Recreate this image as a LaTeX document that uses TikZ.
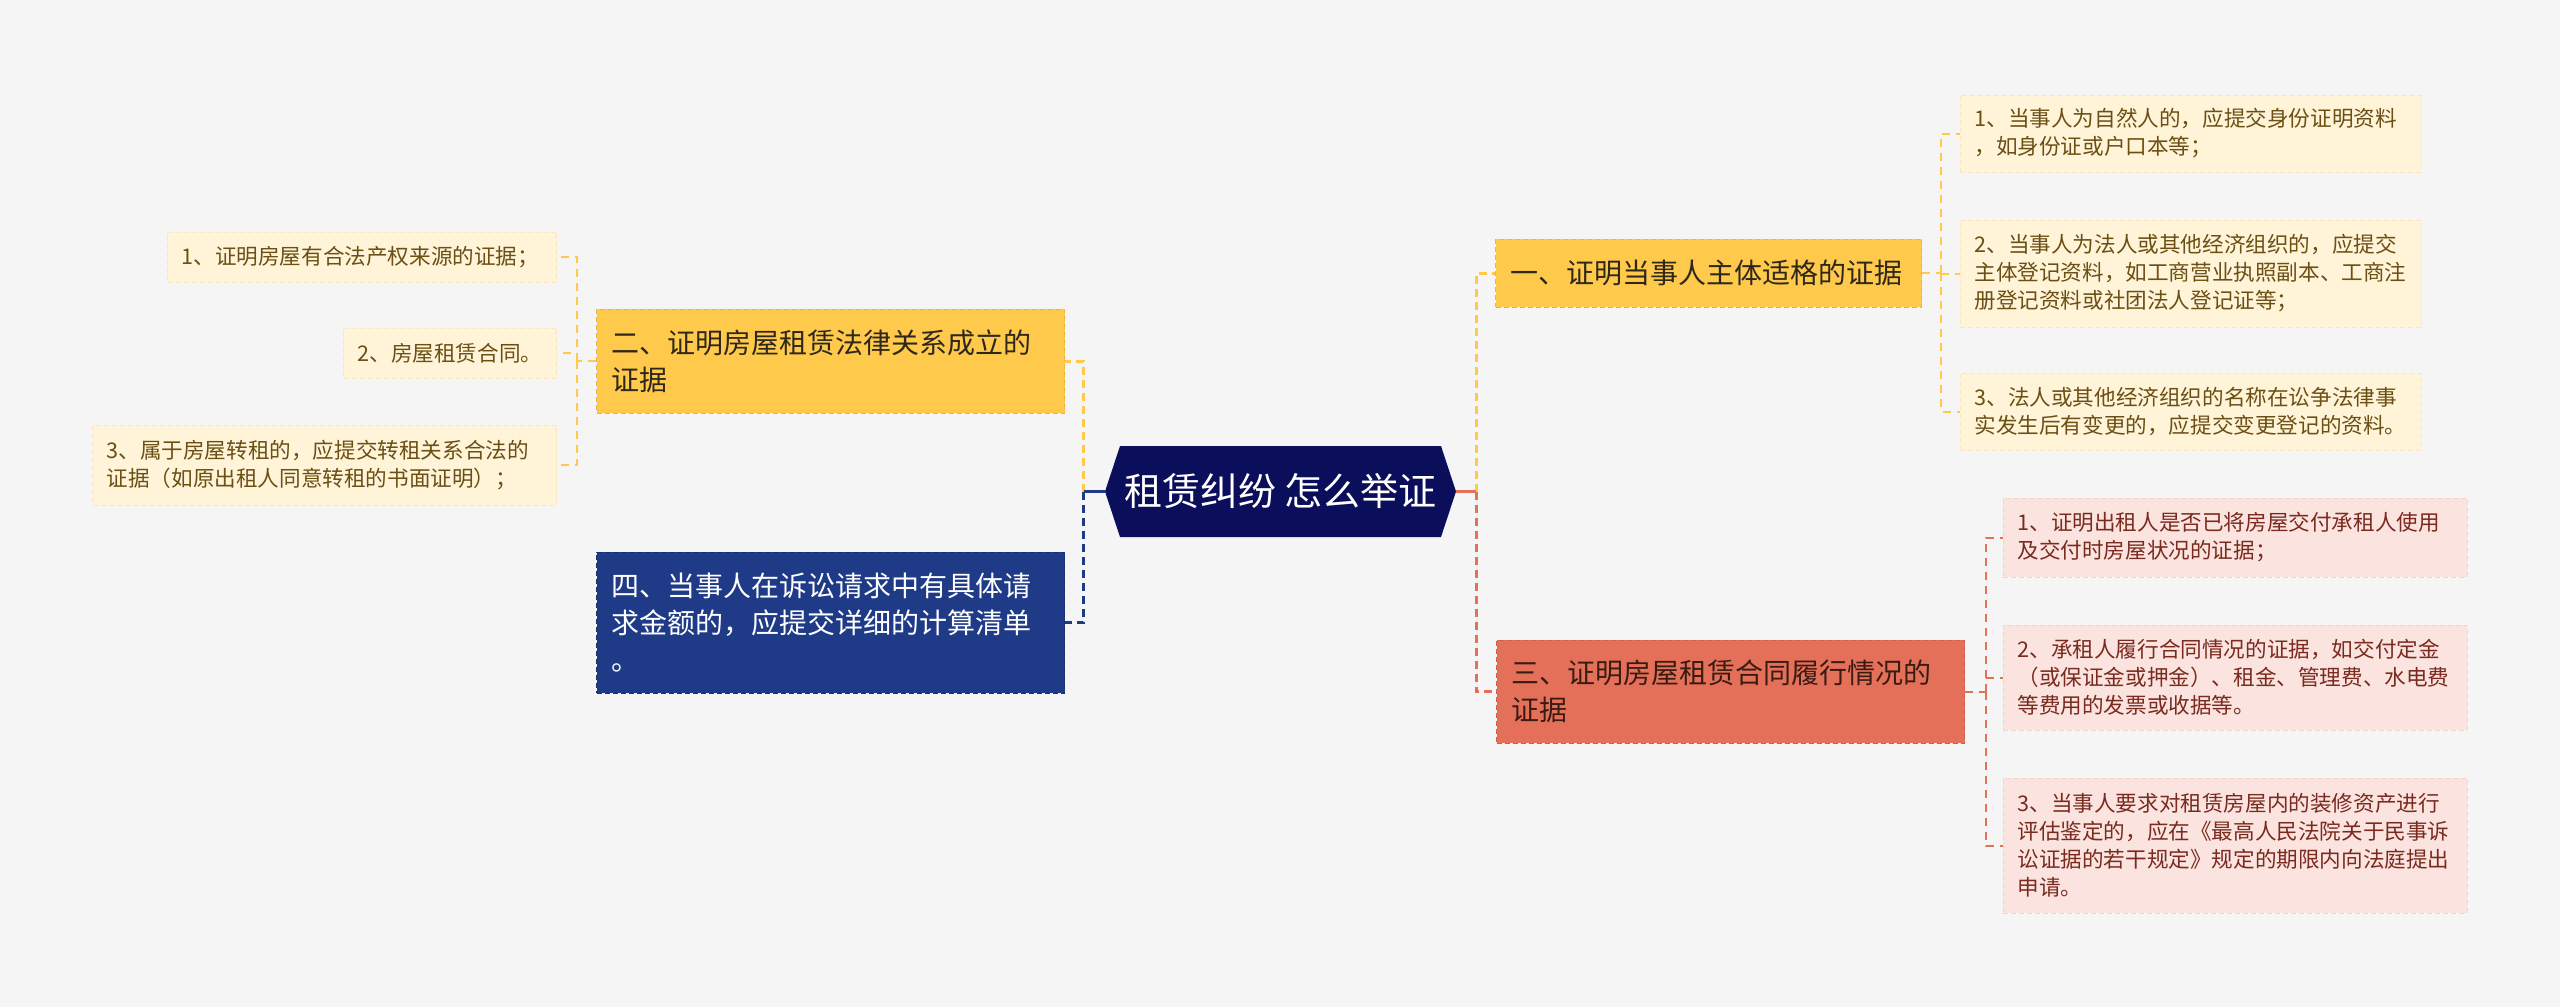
\documentclass[tikz,border=0pt]{standalone}
\usepackage{fontspec}
\setmainfont{Noto Sans CJK SC}
\usepackage{tikz}
\usetikzlibrary{positioning}

\definecolor{pagebg}{HTML}{F5F5F5}
\definecolor{rootnavy}{HTML}{0B0E5B}
\definecolor{branchgold}{HTML}{FFC94B}
\definecolor{goldedge}{HTML}{EDB53C}
\definecolor{goldtext}{HTML}{2E281A}
\definecolor{branchblue}{HTML}{1F3B87}
\definecolor{blueedge}{HTML}{18306E}
\definecolor{branchcoral}{HTML}{E5705A}
\definecolor{coraledge}{HTML}{D25F49}
\definecolor{coraltext}{HTML}{3A1B12}
\definecolor{leafcream}{HTML}{FFF4D8}
\definecolor{creamedge}{HTML}{F8E7C2}
\definecolor{creamtext}{HTML}{6B4F14}
\definecolor{leafpink}{HTML}{FBE4DF}
\definecolor{pinkedge}{HTML}{F4D3CC}
\definecolor{pinktext}{HTML}{7A2A1E}

\begin{document}
\begin{tikzpicture}[x=0.5pt, y=-0.5pt,
        rootshape/.style={minimum width=175.5pt, minimum height=45.5pt, inner sep=0pt,
            fill=pagebg, text=white, font=\fontsize{19pt}{23pt}\selectfont,
            path picture={\fill[rootnavy] (path picture bounding box.west)
                -- ([xshift=7.5pt]path picture bounding box.north west)
                -- ([xshift=-7.5pt]path picture bounding box.north east)
                -- (path picture bounding box.east)
                -- ([xshift=-7.5pt]path picture bounding box.south east)
                -- ([xshift=7.5pt]path picture bounding box.south west) -- cycle;}},
        branch/.style={line width=0.5pt, dash pattern=on 2.5pt off 1.5pt, align=left,
            inner xsep=7.5pt, inner ysep=0pt, font=\fontsize{14pt}{18.5pt}\selectfont},
        goldbranch/.style={branch, fill=branchgold, draw=goldedge, text=goldtext},
        leaf/.style={line width=0.4pt, dash pattern=on 2.5pt off 1.5pt, align=left,
            inner xsep=7pt, inner ysep=0pt, font=\fontsize{10.8pt}{14pt}\selectfont},
        creamleaf/.style={leaf, fill=leafcream, draw=creamedge, text=creamtext},
        pinkleaf/.style={leaf, fill=leafpink, draw=pinkedge, text=pinktext},
        stem/.style={line width=1.5pt},
        trunkdash/.style={line width=1.5pt, dash pattern=on 4pt off 2.5pt},
        twigdash/.style={line width=1pt, dash pattern=on 4pt off 3pt}]

        \fill[pagebg] (0,0) rectangle (2560,1007);
        \useasboundingbox (0,0) rectangle (2560,1007);

        \node[rootshape] (root) at (1280.5,491.5) {租赁纠纷 怎么举证};

        \node[goldbranch, text width=219pt, minimum height=52pt, anchor=west]
            (rent) at (596,361) {二、证明房屋租赁法律关系成立的\\证据};
        \node[branch, fill=branchblue, draw=blueedge, text=white, text width=219pt,
            minimum height=70.5pt, anchor=west]
            (claim) at (596,622.5) {四、当事人在诉讼请求中有具体请\\求金额的，应提交详细的计算清单\\。};
        \node[goldbranch, text width=198pt, minimum height=34pt, anchor=west]
            (party) at (1495,273) {一、证明当事人主体适格的证据};
        \node[branch, fill=branchcoral, draw=coraledge, text=coraltext, text width=219pt,
            minimum height=51.5pt, anchor=west]
            (perform) at (1496,691.5) {三、证明房屋租赁合同履行情况的\\证据};

        \node[creamleaf, text width=180.5pt, minimum height=25pt, anchor=east]
            (rent1) at (557,257) {1、证明房屋有合法产权来源的证据；};
        \node[creamleaf, text width=92.5pt, minimum height=25pt, anchor=east]
            (rent2) at (557,353) {2、房屋租赁合同。};
        \node[creamleaf, text width=218pt, minimum height=40pt, anchor=east]
            (rent3) at (557,465) {3、属于房屋转租的，应提交转租关系合法的\\证据（如原出租人同意转租的书面证明）；};

        \node[creamleaf, text width=216.5pt, minimum height=38.5pt, anchor=west]
            (party1) at (1960,133.5) {1、当事人为自然人的，应提交身份证明资料\\，如身份证或户口本等；};
        \node[creamleaf, text width=216.5pt, minimum height=53.5pt, anchor=west]
            (party2) at (1960,273.5) {2、当事人为法人或其他经济组织的，应提交\\主体登记资料，如工商营业执照副本、工商注\\册登记资料或社团法人登记证等；};
        \node[creamleaf, text width=216.5pt, minimum height=38.5pt, anchor=west]
            (party3) at (1960,411.5) {3、法人或其他经济组织的名称在讼争法律事\\实发生后有变更的，应提交变更登记的资料。};

        \node[pinkleaf, text width=218pt, minimum height=39.5pt, anchor=west]
            (perform1) at (2003,537.5) {1、证明出租人是否已将房屋交付承租人使用\\及交付时房屋状况的证据；};
        \node[pinkleaf, text width=218pt, minimum height=52.5pt, anchor=west]
            (perform2) at (2003,677.5) {2、承租人履行合同情况的证据，如交付定金\\（或保证金或押金）、租金、管理费、水电费\\等费用的发票或收据等。};
        \node[pinkleaf, text width=218pt, minimum height=67.5pt, anchor=west]
            (perform3) at (2003,845.5) {3、当事人要求对租赁房屋内的装修资产进行\\评估鉴定的，应在《最高人民法院关于民事诉\\讼证据的若干规定》规定的期限内向法庭提出\\申请。};

        \coordinate (lj) at ([xshift=-10.5pt]root.west);
        \coordinate (rj) at ([xshift=10pt]root.east);
        \draw[trunkdash, branchgold] (lj) |- (rent.east);
        \draw[trunkdash, branchblue] (lj) |- (claim.east);
        \draw[trunkdash, branchgold] (rj) |- (party.west);
        \draw[trunkdash, branchcoral] (rj) |- (perform.west);
        \draw[stem, branchblue] (root.west) -- (lj);
        \draw[stem, branchcoral] (root.east) -- (rj);

        \coordinate (rentj) at ([xshift=-9.5pt]rent.west);
        \draw[twigdash, branchgold] (rent.west) -- (rentj);
        \draw[twigdash, branchgold] (rentj) |- (rent1.east);
        \draw[twigdash, branchgold] (rentj) |- (rent2.east);
        \draw[twigdash, branchgold] (rentj) |- (rent3.east);

        \coordinate (partyj) at ([xshift=9.5pt]party.east);
        \draw[twigdash, branchgold] (party.east) -- (partyj);
        \draw[twigdash, branchgold] (partyj) |- (party1.west);
        \draw[twigdash, branchgold] (partyj) |- (party2.west);
        \draw[twigdash, branchgold] (partyj) |- (party3.west);

        \coordinate (performj) at ([xshift=10.5pt]perform.east);
        \draw[twigdash, branchcoral] (perform.east) -- (performj);
        \draw[twigdash, branchcoral] (performj) |- (perform1.west);
        \draw[twigdash, branchcoral] (performj) |- (perform2.west);
        \draw[twigdash, branchcoral] (performj) |- (perform3.west);
\end{tikzpicture}
\end{document}
